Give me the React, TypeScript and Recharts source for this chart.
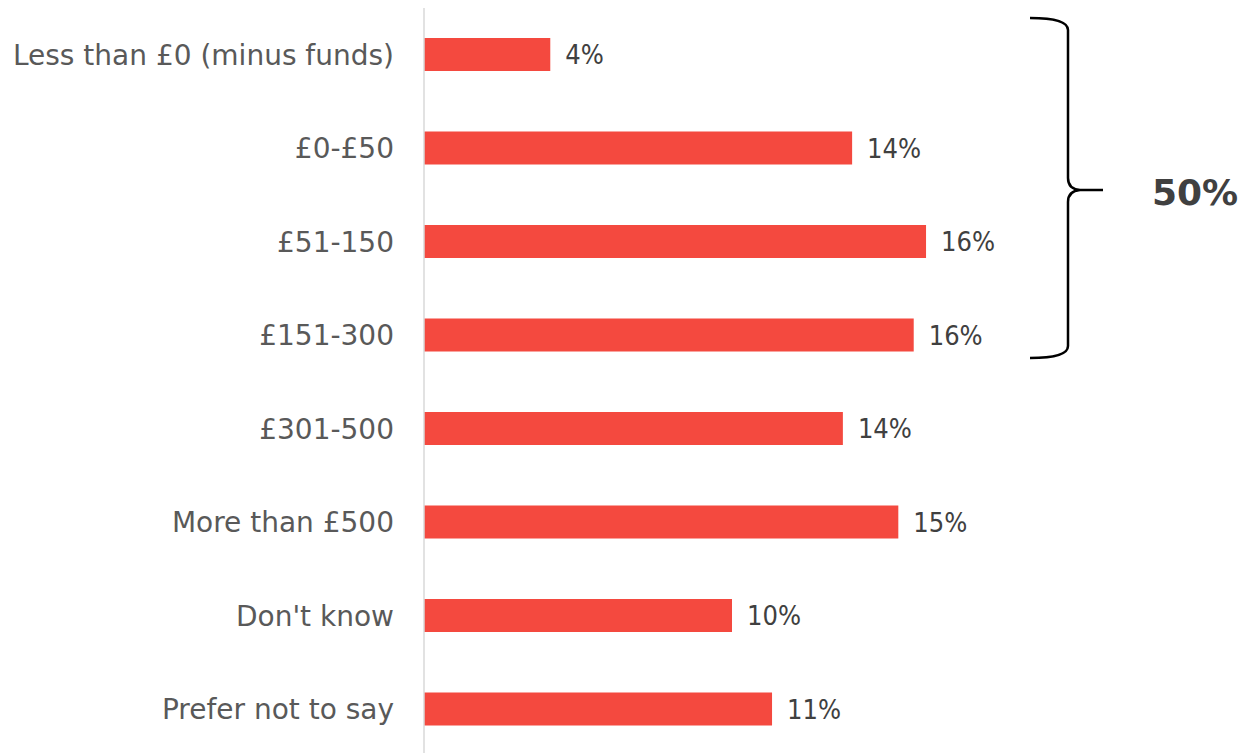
import React from "react";
import { BarChart, Bar, XAxis, YAxis, LabelList, Customized } from "recharts";

const categories = [
  "Less than £0 (minus funds)",
  "£0-£50",
  "£51-150",
  "£151-300",
  "£301-500",
  "More than £500",
  "Don't know",
  "Prefer not to say",
];
const values = [4.1, 13.9, 16.3, 15.9, 13.6, 15.4, 10.0, 11.3];
const bracketTotal = "50%";

const data = categories.map((c, i) => ({ category: c, value: values[i] }));

const Brace = () => (
  <g>
    <path
      d="M1030,18 Q1068,18 1068,30 L1068,178 Q1068,189 1080,190 L1103,190 M1080,190 Q1068,191 1068,202 L1068,346 Q1068,358 1030,358"
      fill="none"
      stroke="#000"
      strokeWidth={2.5}
    />
    <text
      x={1152}
      y={192}
      dominantBaseline="central"
      fontFamily="DejaVu Sans"
      fontWeight="bold"
      fontSize={36}
      fill="#404040"
    >
      {bracketTotal}
    </text>
  </g>
);

export default function App() {
  return (
    <div style={{ position: "absolute", left: 0, top: 0 }}>
      <BarChart
        width={1243}
        height={756}
        data={data}
        layout="vertical"
        margin={{ top: 8, right: 49, bottom: 0, left: 0 }}
      >
        <XAxis type="number" domain={[0, 25]} hide />
        <YAxis
          type="category"
          dataKey="category"
          width={424}
          tickLine={false}
          tickSize={0}
          tickMargin={30}
          axisLine={{ stroke: "#d9d9d9", strokeWidth: 1.5 }}
          tick={{ fill: "#595959", fontSize: 28, fontFamily: "DejaVu Sans" }}
          interval={0}
        />
        <Bar dataKey="value" fill="#F4493F" barSize={33} isAnimationActive={false}>
          <LabelList
            dataKey="value"
            position="right"
            offset={15}
            formatter={(v: number) => `${Math.round(v)}%`}
            style={{ fill: "#404040", fontSize: 27, fontFamily: "DejaVu Sans Condensed" }}
          />
        </Bar>
        <Customized component={Brace} />
      </BarChart>
    </div>
  );
}
